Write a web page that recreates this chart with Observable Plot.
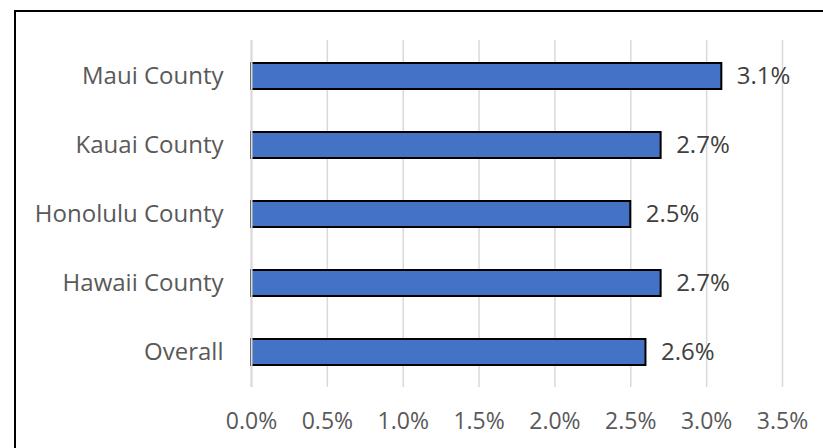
<!DOCTYPE html>
<html>
<head>
<meta charset="utf-8">
<script src="https://cdn.jsdelivr.net/npm/d3@7"></script>
<script src="https://cdn.jsdelivr.net/npm/@observablehq/plot@0.6"></script>
<style>
  html, body { margin: 0; padding: 0; background: #fff; }
  #wrap { position: relative; width: 823px; height: 448px; overflow: hidden; }
  #wrap svg { position: absolute; left: 0; top: 0; }
  #border { position: absolute; left: 14px; top: 10px; width: 900px; height: 500px;
            border-top: 2px solid #000; border-left: 2px solid #000; pointer-events: none; }
</style>
</head>
<body>
<div id="wrap"><div id="border"></div></div>
<script>
const categories = ["Maui County", "Kauai County", "Honolulu County", "Hawaii County", "Overall"];
const values = [0.031, 0.027, 0.025, 0.027, 0.026];
const xTicks = [0, 0.005, 0.01, 0.015, 0.02, 0.025, 0.03, 0.035];

const data = categories.map((c, i) => ({category: c, value: values[i]}));
const fmt = d3.format(".1%");

const chart = Plot.plot({
  width: 823,
  height: 448,
  marginLeft: 251,
  marginRight: 41,
  marginTop: 40,
  marginBottom: 61,
  style: {fontFamily: "'Open Sans', sans-serif", fontSize: "24px", background: "transparent"},
  x: {domain: [0, 0.035], ticks: xTicks, tickFormat: fmt},
  y: {domain: categories, paddingInner: 0.63, paddingOuter: 0.315},
  marks: [
    Plot.gridX(xTicks, {stroke: "#d9d9d9", strokeOpacity: 1, strokeWidth: 1.5}),
    Plot.barX(data, {x: "value", y: "category", fill: "#4472C4", stroke: "#000", strokeWidth: 2}),
    Plot.ruleX([0], {stroke: "#d9d9d9", strokeWidth: 2}),
    Plot.text(data, {x: "value", y: "category", text: d => fmt(d.value), textAnchor: "start", dx: 15, fill: "#404040", fontSize: 24}),
    Plot.axisX(xTicks, {tickSize: 0, tickPadding: 25, tickFormat: fmt, fill: "#595959", fontSize: 23, label: null}),
    Plot.axisY({tickSize: 0, tickPadding: 28, fill: "#595959", fontSize: 24, label: null})
  ]
});
document.getElementById("wrap").prepend(chart);
</script>
</body>
</html>
